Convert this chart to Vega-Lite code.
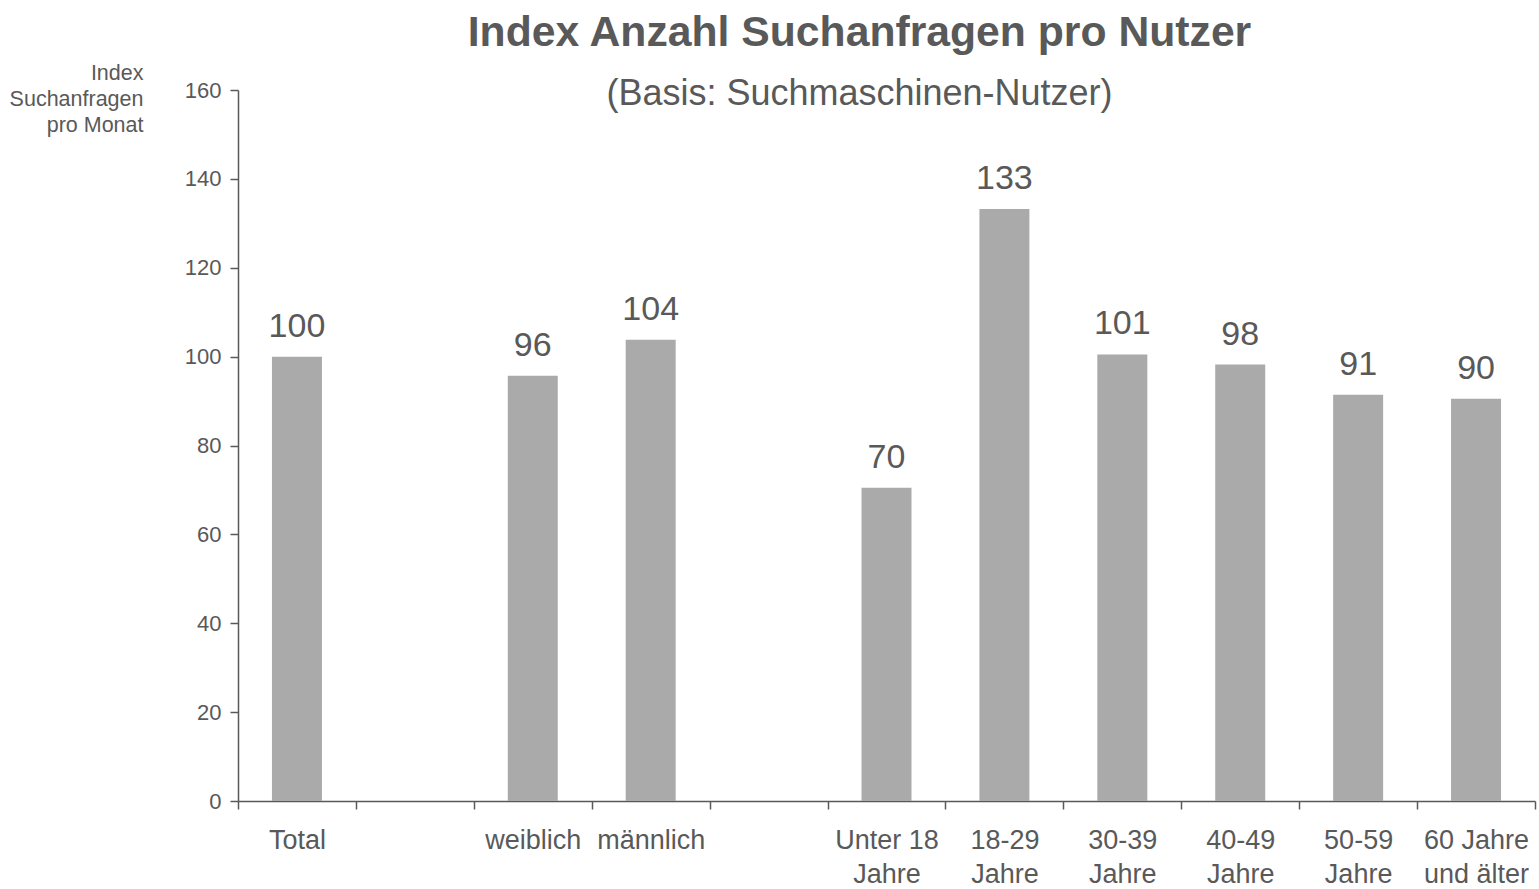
{
  "$schema": "https://vega.github.io/schema/vega-lite/v6.json",
  "width": 1297,
  "height": 711,
  "autosize": {"type": "none"},
  "padding": {"left": 238, "top": 90, "right": 4, "bottom": 88},
  "background": "white",
  "config": {"view": {"stroke": null}, "font": "Liberation Sans"},
  "title": {
    "text": "Index Anzahl Suchanfragen pro Nutzer",
    "subtitle": "(Basis: Suchmaschinen-Nutzer)",
    "anchor": "middle",
    "frame": "group",
    "dx": -27,
    "fontSize": 42.7,
    "fontWeight": "bold",
    "color": "#595959",
    "subtitleFontSize": 36,
    "subtitleColor": "#595959",
    "subtitlePadding": 22,
    "offset": -50
  },
  "data": {
    "values": [
      {"category": "Total", "value": 100, "label": "100"},
      {"category": "weiblich", "value": 95.7, "label": "96"},
      {"category": "männlich", "value": 103.8, "label": "104"},
      {"category": "Unter 18|Jahre", "value": 70.5, "label": "70"},
      {"category": "18-29|Jahre", "value": 133.2, "label": "133"},
      {"category": "30-39|Jahre", "value": 100.5, "label": "101"},
      {"category": "40-49|Jahre", "value": 98.2, "label": "98"},
      {"category": "50-59|Jahre", "value": 91.4, "label": "91"},
      {"category": "60 Jahre|und älter", "value": 90.5, "label": "90"}
    ]
  },
  "encoding": {
    "x": {
      "field": "category",
      "type": "nominal",
      "sort": null,
      "scale": {
        "domain": ["Total", " ", "weiblich", "männlich", "  ", "Unter 18|Jahre", "18-29|Jahre", "30-39|Jahre", "40-49|Jahre", "50-59|Jahre", "60 Jahre|und älter"],
        "paddingInner": 0,
        "paddingOuter": 0
      },
      "axis": {
        "title": null,
        "labelAngle": 0,
        "labelExpr": "split(datum.label, '|')",
        "labelFontSize": 27,
        "labelColor": "#595959",
        "labelLineHeight": 34,
        "labelPadding": 18,
        "labelOverlap": false,
        "labelFlush": false,
        "labelBound": false,
        "tickBand": "extent",
        "tickSize": 8,
        "tickColor": "#595959",
        "tickWidth": 1.5,
        "domainColor": "#595959",
        "domainWidth": 1.5
      }
    },
    "y": {
      "field": "value",
      "type": "quantitative",
      "scale": {"domain": [0, 160], "nice": false},
      "axis": {
        "values": [0, 20, 40, 60, 80, 100, 120, 140, 160],
        "grid": false,
        "labelFontSize": 22,
        "labelColor": "#595959",
        "labelPadding": 9,
        "tickSize": 8,
        "tickColor": "#595959",
        "tickWidth": 1.5,
        "domainColor": "#595959",
        "domainWidth": 1.5,
        "title": ["Index", "Suchanfragen", "pro Monat"],
        "titleAngle": 0,
        "titleAlign": "right",
        "titleBaseline": "top",
        "titleX": -95,
        "titleY": -28,
        "titleFontSize": 21.5,
        "titleFontWeight": "normal",
        "titleColor": "#595959",
        "titleLineHeight": 26
      }
    }
  },
  "layer": [
    {
      "mark": {"type": "bar", "color": "#aaaaaa", "width": {"band": 0.424}}
    },
    {
      "mark": {"type": "text", "baseline": "alphabetic", "dy": -20, "fontSize": 34, "color": "#595959"},
      "encoding": {"text": {"field": "label"}}
    }
  ]
}
